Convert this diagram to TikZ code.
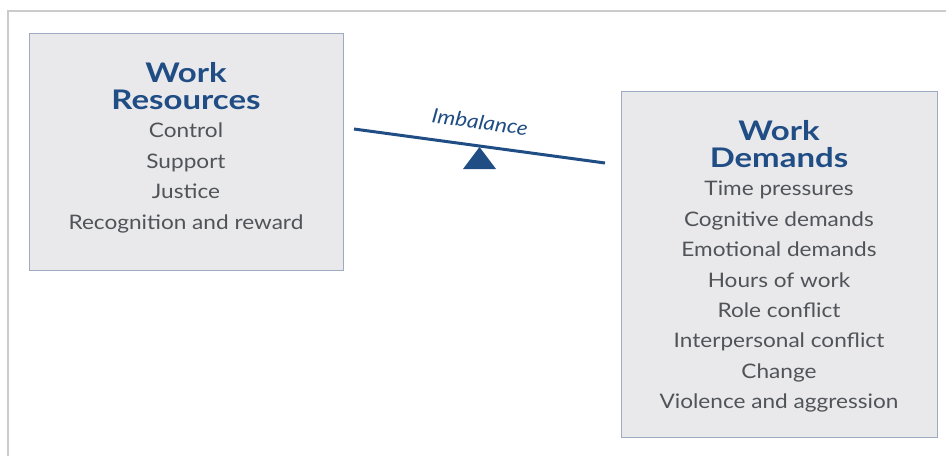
\documentclass[tikz,border=0pt]{standalone}
\usepackage{fontspec}
\setmainfont{Lato}
\newfontfamily\headfont[FakeStretch=1.22]{Lato}
\newfontfamily\itemfont[FakeStretch=1.13]{Lato}
\usetikzlibrary{positioning}

\definecolor{navy}{HTML}{1F4D84}
\definecolor{itemgray}{HTML}{505357}
\definecolor{boxfill}{HTML}{E9E9EC}
\definecolor{boxedge}{HTML}{9DAAC2}
\definecolor{framegray}{HTML}{C9CBCC}

\begin{document}
\begin{tikzpicture}
		[x=1pt, y=-1pt,
		box/.style={draw=boxedge, fill=boxfill, line width=0.9pt, inner sep=0pt},
		head/.style={font=\headfont\fontsize{27}{27}\selectfont\bfseries, text=navy, inner sep=0pt, text height=19pt, text depth=0pt, node distance=8pt},
		item/.style={font=\itemfont\fontsize{20}{30}\selectfont, text=itemgray, inner sep=0pt, text height=14pt, text depth=4pt, node distance=12pt}]
		\useasboundingbox (0,0) rectangle (946,456);
		\draw[framegray, line width=1.2pt] (8,456) -- (8,11) -- (946,11);

		% left box
		\node[box, minimum width=314pt, minimum height=237pt] (resbox) at (186,151.5) {};
		\node[head, anchor=base] (rw) at (186,82) {Work};
		\node[head, below=of rw] (rt) {Resources};
		\node[item, below=14pt of rt] (r1) {Control};
		\node[item, below=of r1] (r2) {Support};
		\node[item, below=of r2] (r3) {Justice};
		\node[item, below=of r3] (r4) {Recognition and reward};

		% right box
		\node[box, minimum width=316pt, minimum height=346pt] (dembox) at (779,264) {};
		\node[head, anchor=base] (dw) at (779,140) {Work};
		\node[head, below=of dw] (dt) {Demands};
		\node[item, below=14pt of dt] (d1) {Time pressures};
		\node[item, below=of d1] (d2) {Cognitive demands};
		\node[item, below=of d2] (d3) {Emotional demands};
		\node[item, below=of d3] (d4) {Hours of work};
		\node[item, below=of d4] (d5) {Role conflict};
		\node[item, below=of d5] (d6) {Interpersonal conflict};
		\node[item, below=of d6] (d7) {Change};
		\node[item, below=of d7] (d8) {Violence and aggression};

		% seesaw
		\coordinate (beaml) at (354,129);
		\coordinate (beamr) at (605,163);
		\coordinate (pivot) at (479.5,147);
		\draw[navy, line width=3pt] (beaml) -- (beamr);
		\fill[navy] (pivot) -- (463,169) -- (496,169) -- cycle;
		\node[text=navy, font=\itemfont\fontsize{20}{20}\selectfont\itshape, rotate=-7.7, inner sep=0pt] (imb) at (480,122) {Imbalance};
	\end{tikzpicture}
\end{document}
